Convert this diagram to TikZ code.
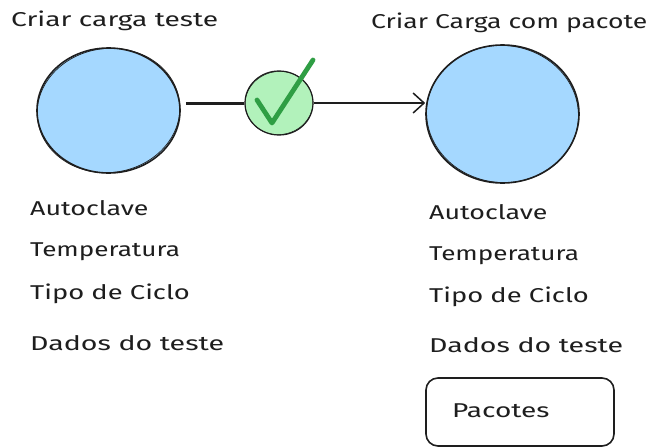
\documentclass[tikz,border=0pt]{standalone}
\usepackage{graphicx}
\usepackage{fontspec}
\setmainfont[FakeStretch=1.36]{Fira Sans}
\usetikzlibrary{arrows.meta,shapes.geometric}
\definecolor{ink}{RGB}{30,30,30}
\definecolor{bluefill}{RGB}{165,216,255}
\definecolor{greenfill}{RGB}{178,242,187}
\definecolor{tick}{RGB}{47,158,68}
\newcommand{\fitx}[2]{\scalebox{#1}[1]{#2}}
\tikzset{
  blob/.style={ellipse,draw=ink,line width=1.6pt,fill=bluefill,inner sep=0pt},
  sketch/.style={draw=ink,line width=.7pt},
  lbl/.style={anchor=west,inner sep=0pt,font=\fontsize{20}{20}\selectfont,text=ink},
}
\begin{document}
\begin{tikzpicture}[x=1pt,y=-1pt]
\useasboundingbox (0,0) rectangle (651,447);
\fill[white] (0,0) rectangle (651,447);
\node[blob,minimum width=143,minimum height=125] (a) at (108.5,110.5) {};
\node[blob,minimum width=153,minimum height=138] (b) at (502.5,114) {};
\node[ellipse,draw=ink,line width=1.2pt,fill=greenfill,minimum width=68,minimum height=64,inner sep=0pt] (c) at (279,103) {};
\draw[sketch,rotate around={8:(a.center)}] (a.center) ellipse [x radius=71.5,y radius=62];
\draw[sketch,rotate around={-6:(b.center)}] (b.center) ellipse [x radius=76,y radius=68.5];
\draw[sketch,line width=.5pt,rotate around={10:(c.center)}] (c.center) ellipse [x radius=34,y radius=31.5];
\draw[line width=3pt,ink,shorten <=5pt] (a.east |- c.west) -- (c.west);
\draw[line width=1.5pt,ink,-{Straight Barb[length=11pt,width=20pt]}] (c.east) -- (b.west |- c.east);
\draw[line width=4.8pt,tick,line cap=round,line join=round] (257,100) -- (272,123) -- (313,60);
\node[lbl] (t1) at (11,21) {\fitx{1.035}{Criar carga teste}};
\node[lbl] (t2) at (371,23) {\fitx{0.975}{Criar Carga com pacote}};
\node[lbl] (l1) at (30,208) {\fitx{0.985}{Autoclave}};
\node[lbl] (l2) at (30,252) {\fitx{0.96}{Temperatura}};
\node[lbl] (l3) at (30,294) {\fitx{1.005}{Tipo de Ciclo}};
\node[lbl] (l4) at (30,343) {\fitx{1.05}{Dados do teste}};
\node[lbl] (r1) at (429,212) {\fitx{0.985}{Autoclave}};
\node[lbl] (r2) at (429,256) {\fitx{0.96}{Temperatura}};
\node[lbl] (r3) at (429,297) {\fitx{1.005}{Tipo de Ciclo}};
\node[lbl] (r4) at (429,345) {\fitx{1.05}{Dados do teste}};
\node[draw=ink,line width=1.6pt,rounded corners=12pt,minimum width=188,minimum height=68] (p) at (520,412) {};
\node[lbl] (pt) at (452,411) {\fitx{1.03}{Pacotes}};
\end{tikzpicture}
\end{document}
